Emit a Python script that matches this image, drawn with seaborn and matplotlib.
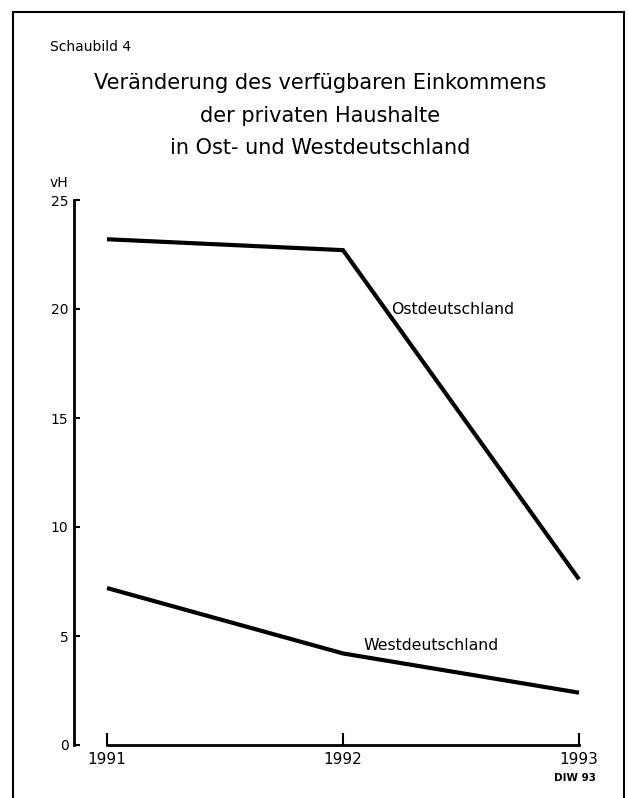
import matplotlib
matplotlib.use("Agg")
import matplotlib.pyplot as plt
import seaborn as sns
import pandas as pd
from matplotlib.patches import Rectangle

# ---- data ----
years = [1991, 1992, 1993]
ost = [23.2, 22.7, 7.6]
west = [7.2, 4.2, 2.4]
series_names = ["Ostdeutschland", "Westdeutschland"]
y_ticks = [0, 5, 10, 15, 20, 25]

df = pd.DataFrame({
    "Jahr": years * 2,
    "vH": ost + west,
    "Region": [series_names[0]] * 3 + [series_names[1]] * 3,
})

sns.set_style("white")
plt.rcParams["font.family"] = ["DejaVu Sans"]
plt.rcParams["text.color"] = "black"

W, H = 628, 798
fig = plt.figure(figsize=(W / 100, H / 100), dpi=100)

px_per_year = (579 - 107) / 2
ax_left_px, ax_right_px = 74, 600
x0 = 1991 - (107 - ax_left_px) / px_per_year
x1 = 1993 + (ax_right_px - 579) / px_per_year
ax = fig.add_axes([ax_left_px / W, (H - 745) / H, (ax_right_px - ax_left_px) / W, (745 - 200) / H])

sns.lineplot(data=df, x="Jahr", y="vH", hue="Region", palette=["black", "black"],
             linewidth=3.0, legend=False, ax=ax, clip_on=False)
for ln in ax.lines:
    ln.set_solid_capstyle("butt")
    ln.set_solid_joinstyle("miter")

ax.set_xlim(x0, x1)
ax.set_ylim(0, 25)
ax.set_xticks(years)
ax.set_xticklabels([str(y) for y in years])
ax.set_yticks(y_ticks)
ax.set_yticklabels([str(t) for t in y_ticks])
ax.set_xlabel("")
ax.set_ylabel("")

for s in ["top", "right"]:
    ax.spines[s].set_visible(False)
for s in ["left", "bottom"]:
    ax.spines[s].set_linewidth(2.0)
    ax.spines[s].set_color("black")
ax.spines["bottom"].set_bounds(1991, 1993)
ax.spines["left"].set_bounds(0, 25)

ax.tick_params(axis="y", left=True, direction="in", length=4, width=1.5, pad=4,
               labelsize=10, colors="black")
ax.tick_params(axis="x", bottom=True, direction="in", length=9, width=1.5, pad=5,
               labelsize=11, colors="black")

# line labels
ax.text(1992 + (391 - 343) / px_per_year, (745 - 309) / 21.8, series_names[0],
        fontsize=11.3, ha="left", va="center", color="black")
ax.text(1992 + (363 - 343) / px_per_year, (745 - 646) / 21.8, series_names[1],
        fontsize=11.3, ha="left", va="center", color="black")

# titles and annotations (figure coordinates)
fig.text(50 / W, 1 - 47 / H, "Schaubild 4", fontsize=10, ha="left", va="center", color="black")
for txt, ypx in [("Veränderung des verfügbaren Einkommens", 83),
                 ("der privaten Haushalte", 116),
                 ("in Ost- und Westdeutschland", 148)]:
    fig.text(320 / W, 1 - ypx / H, txt, fontsize=15, ha="center", va="center", color="black")
fig.text(50 / W, 1 - 183 / H, "vH", fontsize=10, ha="left", va="center", color="black")
fig.text(596 / W, 1 - 778 / H, "DIW 93", fontsize=7.5, ha="right", va="center",
         fontweight="bold", color="black")

# frame
fig.patches.append(Rectangle((13 / W, -0.05), (624 - 13) / W, 1.05 - 12 / H,
                             transform=fig.transFigure, fill=False, edgecolor="black", linewidth=1.5))

fig.savefig("out.png", dpi=100, facecolor="white")
